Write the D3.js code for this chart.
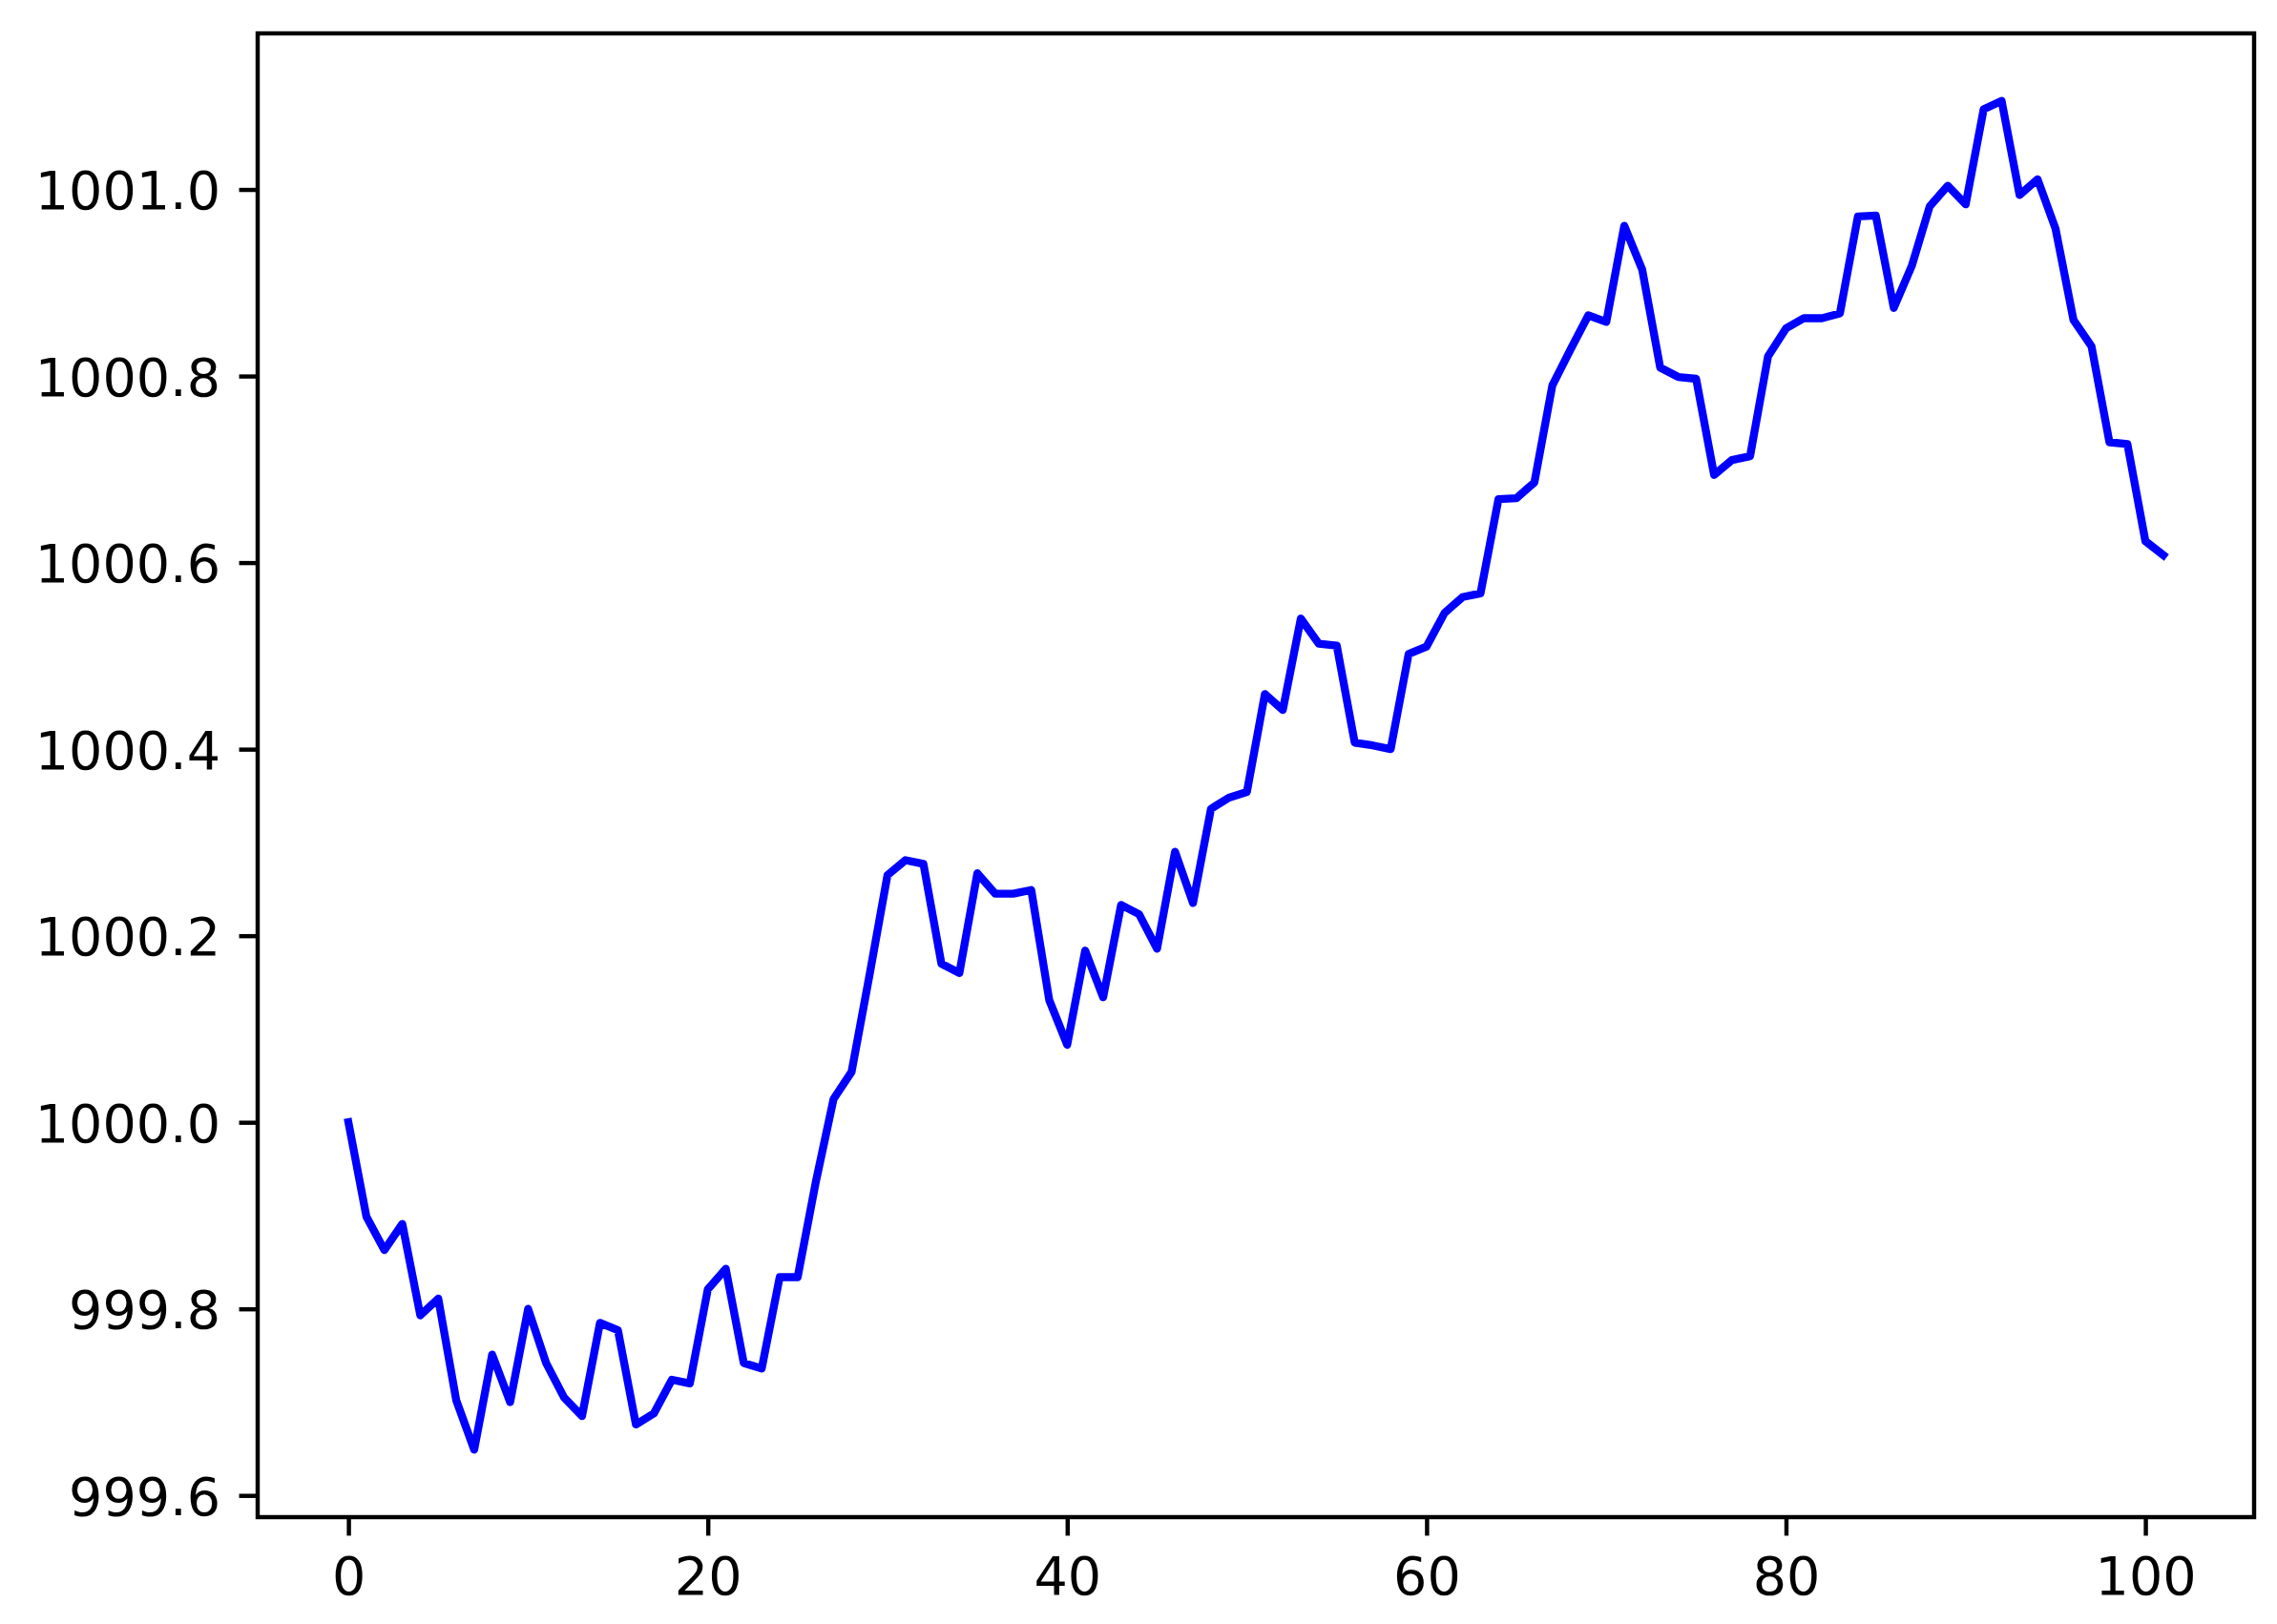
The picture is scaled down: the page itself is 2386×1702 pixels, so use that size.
<!DOCTYPE html>
<html>
<head>
<meta charset="utf-8">
<script src="https://cdn.jsdelivr.net/npm/d3@7"></script>
<style>
  html, body { margin: 0; padding: 0; background: #fff; }
  text { font-family: "DejaVu Sans", sans-serif; }
</style>
</head>
<body>
<div id="chart"></div>
<script>
// series values, one per step (x = index)
var values = [
  1000.000, 999.899, 999.863, 999.891, 999.793, 999.811, 999.702, 999.649, 999.751, 999.700,
  999.800, 999.742, 999.705, 999.685, 999.785, 999.777, 999.676, 999.688, 999.724, 999.720,
  999.821, 999.843, 999.742, 999.736, 999.834, 999.834, 999.935, 1000.025, 1000.054, 1000.158,
  1000.265, 1000.281, 1000.277, 1000.170, 1000.160, 1000.267, 1000.245, 1000.245, 1000.249, 1000.131,
  1000.083, 1000.184, 1000.134, 1000.233, 1000.223, 1000.186, 1000.290, 1000.235, 1000.336, 1000.348,
  1000.354, 1000.459, 1000.442, 1000.540, 1000.513, 1000.511, 1000.407, 1000.404, 1000.400, 1000.502,
  1000.510, 1000.546, 1000.563, 1000.567, 1000.668, 1000.669, 1000.686, 1000.790, 1000.828, 1000.865,
  1000.858, 1000.961, 1000.914, 1000.809, 1000.799, 1000.797, 1000.694, 1000.710, 1000.714, 1000.821,
  1000.851, 1000.862, 1000.862, 1000.867, 1000.971, 1000.972, 1000.873, 1000.918, 1000.982, 1001.004,
  1000.984, 1001.086, 1001.095, 1000.994, 1001.011, 1000.958, 1000.860, 1000.832, 1000.729, 1000.727,
  1000.623, 1000.608
];

// tick labels
var xTicks = [0, 20, 40, 60, 80, 100];
var yTicks = [999.6, 999.8, 1000.0, 1000.2, 1000.4, 1000.6, 1000.8, 1001.0];

// figure size and margins (matplotlib-like, ~400 dpi)
var W = 2386, H = 1702;
var margin = {top: 35, right: 24, bottom: 112, left: 270};
var pt = 400 / 72;   // one point in pixels

var svg = d3.select("#chart")
  .append("svg")
    .attr("width", W)
    .attr("height", H);

// 5% margins on both axes, like matplotlib's autoscale
var n = values.length - 1;
var x = d3.scaleLinear()
  .domain([-0.05 * n, n * 1.05])
  .range([margin.left, W - margin.right]);

var ext = d3.extent(values);
var pad = (ext[1] - ext[0]) * 0.05;
var y = d3.scaleLinear()
  .domain([ext[0] - pad, ext[1] + pad])
  .range([H - margin.bottom, margin.top]);

// the line
var line = d3.line()
  .x(function(d, i) { return x(i); })
  .y(function(d) { return y(d); });

svg.append("path")
  .datum(values)
  .attr("fill", "none")
  .attr("stroke", "#0000ff")
  .attr("stroke-width", 1.5 * pt)
  .attr("stroke-linejoin", "round")
  .attr("stroke-linecap", "square")
  .attr("d", line);

// axes
var fontSize = 10 * pt;

var xAxis = svg.append("g")
  .attr("transform", "translate(0," + (H - margin.bottom) + ")")
  .call(d3.axisBottom(x)
    .tickValues(xTicks)
    .tickFormat(d3.format("d"))
    .tickSize(3.5 * pt)
    .tickPadding(3.5 * pt));

var yAxis = svg.append("g")
  .attr("transform", "translate(" + margin.left + ",0)")
  .call(d3.axisLeft(y)
    .tickValues(yTicks)
    .tickFormat(d3.format(".1f"))
    .tickSize(3.5 * pt)
    .tickPadding(3.5 * pt));

[xAxis, yAxis].forEach(function(g) {
  g.select(".domain").remove();
  g.selectAll(".tick line")
    .attr("stroke", "#000")
    .attr("stroke-width", 0.8 * pt);
  g.selectAll(".tick text")
    .attr("fill", "#000")
    .style("font-size", fontSize + "px")
    .style("font-family", "'DejaVu Sans', sans-serif");
});

// baseline tweaks so digits sit like matplotlib's
xAxis.selectAll(".tick text").attr("dy", "0.76em");
yAxis.selectAll(".tick text").attr("dy", "0.36em");

// frame (spines)
svg.append("rect")
  .attr("x", margin.left)
  .attr("y", margin.top)
  .attr("width", W - margin.left - margin.right)
  .attr("height", H - margin.top - margin.bottom)
  .attr("fill", "none")
  .attr("stroke", "#000")
  .attr("stroke-width", 0.8 * pt)
  .attr("stroke-linejoin", "miter");
</script>
</body>
</html>
